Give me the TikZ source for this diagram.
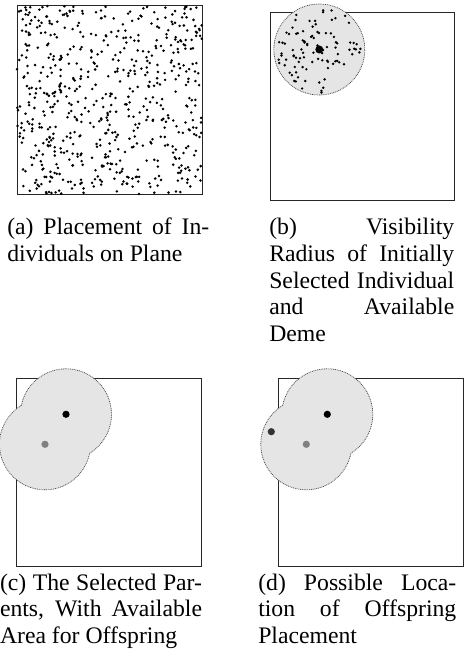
\documentclass[tikz,border=0pt]{standalone}
\usepackage{fontspec}
\setmainfont{Liberation Serif}
\begin{document}
\begin{tikzpicture}[x=1pt,y=1pt,
  frame/.style={draw=black!85,line width=1pt},
  demefill/.style={fill=black!10,draw=black!75,line width=0.7pt,dash pattern=on 0.9pt off 0.9pt},
  smalldot/.style={fill=black},
  captext/.style={anchor=base west,inner sep=0pt,outer sep=0pt,font=\fontsize{23.7}{26.7}\selectfont}]
\useasboundingbox (0,0) rectangle (465,-660);
\fill[white] (0,0) rectangle (465,-660);

% ---------- (a) ----------
\draw[frame] (17,-6) rectangle (202,-195);
\pgfmathsetseed{4242}
\foreach \i in {1,...,620}{
  \pgfmathsetmacro{\px}{17+185*rnd}
  \pgfmathsetmacro{\py}{-(6+189*rnd)}
  \fill[smalldot] (\px,\py) circle (1.4);
}

% ---------- (b) ----------
\draw[frame] (270.3,-12.7) rectangle (454.7,-201);
\coordinate (bc) at (319.3,-49.5);
\path[demefill] (bc) circle (45.5);
\foreach \i in {1,...,95}{
  \pgfmathsetmacro{\rr}{43.5*sqrt(rnd)}
  \pgfmathsetmacro{\aa}{360*rnd}
  \fill[smalldot] (bc) ++(\aa:\rr) circle (1.35);
}
\fill[black] (bc) circle (4);

% ---------- (c) ----------
\draw[frame] (16.7,-378.3) rectangle (201.7,-566.7);
\coordinate (cA) at (66,-414.3);
\coordinate (cB) at (45,-444.3);
\path[demefill] (cA) ++(-191.27:45.5)
  arc[start angle=-191.27,end angle=-418.73,radius=45.5]
  arc[start angle=-11.27,end angle=-238.73,radius=45.5] -- cycle;
\fill[black] (cA) circle (3.6);
\fill[black!50] (cB) circle (3.6);

% ---------- (d) ----------
\draw[frame] (278,-378.3) rectangle (463,-566.7);
\coordinate (dA) at (327.3,-414.3);
\coordinate (dB) at (306.3,-444.3);
\coordinate (dC) at (271.3,-431.7);
\path[demefill] (dA) ++(-191.27:45.5)
  arc[start angle=-191.27,end angle=-418.73,radius=45.5]
  arc[start angle=-11.27,end angle=-238.73,radius=45.5] -- cycle;
\fill[black] (dA) circle (3.6);
\fill[black!50] (dB) circle (3.6);
\fill[black!80] (dC) circle (3.6);

% ---------- captions ----------
\node[captext] (a1) at (7.3,-234.7) {\makebox[202pt][s]{(a) Placement of In-}};
\node[captext] (a2) at (7.3,-261.4) {dividuals on Plane};

\node[captext] (b1) at (269.3,-234.7) {\makebox[185pt][s]{(b) Visibility}};
\node[captext] (b2) at (269.3,-261.4) {\makebox[185pt][s]{Radius of Initially}};
\node[captext] (b3) at (269.3,-288.1) {\makebox[185pt][s]{Selected Individual}};
\node[captext] (b4) at (269.3,-314.8) {\makebox[185pt][s]{and Available}};
\node[captext] (b5) at (269.3,-341.5) {Deme};

\node[captext] (c1) at (0,-590) {\makebox[202pt][s]{(c) The Selected Par-}};
\node[captext] (c2) at (0,-616.7) {\makebox[202pt][s]{ents, With Available}};
\node[captext] (c3) at (0,-643.4) {Area for Offspring};

\node[captext] (d1) at (258.3,-590) {\makebox[198pt][s]{(d) Possible Loca-}};
\node[captext] (d2) at (258.3,-616.7) {\makebox[198pt][s]{tion of Offspring}};
\node[captext] (d3) at (258.3,-643.4) {Placement};
\end{tikzpicture}
\end{document}
